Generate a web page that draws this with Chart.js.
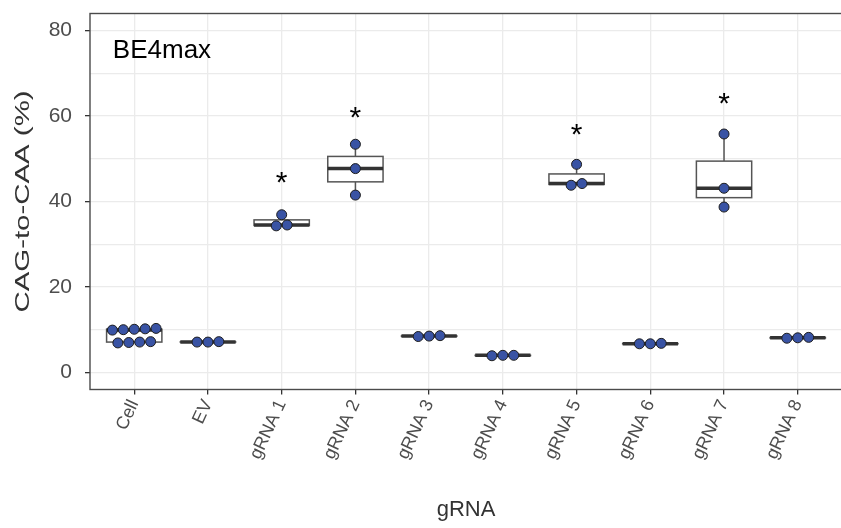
<!DOCTYPE html>
<html>
<head>
<meta charset="utf-8">
<script src="https://cdn.jsdelivr.net/npm/chart.js@4.4.0/dist/chart.umd.min.js"></script>
<style>
  html, body { margin: 0; padding: 0; background: #fff; overflow: hidden; }
  #wrap { width: 848px; height: 528px; }
</style>
</head>
<body>
<div id="wrap"><canvas id="boxChart"></canvas></div>
<script>
// data
const categories = ["Cell", "EV", "gRNA 1", "gRNA 2", "gRNA 3", "gRNA 4", "gRNA 5", "gRNA 6", "gRNA 7", "gRNA 8"];
const cellValues = [9.9, 10.0, 10.1, 10.2, 10.3, 6.9, 7.0, 7.1, 7.2];
const evValues = [7.1, 7.1, 7.2];
const g1Values = [34.3, 34.5, 36.9];
const g2Values = [41.5, 47.7, 53.4];
const g3Values = [8.4, 8.5, 8.6];
const g4Values = [3.9, 4.0, 4.0];
const g5Values = [43.8, 44.2, 48.7];
const g6Values = [6.7, 6.7, 6.8];
const g7Values = [38.7, 43.1, 55.8];
const g8Values = [8.0, 8.1, 8.2];
const starY = [null, null, 45.6, 60.7, null, null, 56.8, null, 64.2, null];
const yTicks = [0, 10, 20, 30, 40, 50, 60, 70, 80];
const panelLabel = "BE4max";

const groups = [cellValues, evValues, g1Values, g2Values, g3Values, g4Values, g5Values, g6Values, g7Values, g8Values];

function quantile(sorted, p) {
    const h = (sorted.length - 1) * p;
    const lo = Math.floor(h);
    const hi = Math.min(lo + 1, sorted.length - 1);
    return sorted[lo] + (h - lo) * (sorted[hi] - sorted[lo]);
}

function boxStats(vals) {
    const s = vals.slice().sort((a, b) => a - b);
    const q1 = quantile(s, 0.25), med = quantile(s, 0.5), q3 = quantile(s, 0.75);
    const iqr = q3 - q1;
    const lo = s.find(v => v >= q1 - 1.5 * iqr);
    const hi = s.slice().reverse().find(v => v <= q3 + 1.5 * iqr);
    return { q1, med, q3, lo, hi };
}

// simple beeswarm: values close together share a row and spread sideways
function swarm(vals) {
    const s = vals.slice().sort((a, b) => a - b);
    const rows = [];
    s.forEach(v => {
        const row = rows[rows.length - 1];
        if (row && v - row[row.length - 1] < 1.5) row.push(v);
        else rows.push([v]);
    });
    const out = [];
    rows.forEach(row => {
        row.forEach((v, i) => out.push({ dx: (i - (row.length - 1) / 2) * 0.148, y: v }));
    });
    return out;
}

const points = [];
groups.forEach((vals, gi) => {
    swarm(vals).forEach(p => points.push({ x: gi + p.dx, y: p.y }));
});

const fontFamily = "'Liberation Sans', Arial, sans-serif";

const boxPlugin = {
    id: "boxes",
    beforeDatasetsDraw(chart) {
        const { ctx, scales: { x, y }, chartArea } = chart;
        ctx.save();
        ctx.beginPath();
        ctx.rect(chartArea.left, chartArea.top, chartArea.right - chartArea.left, chartArea.bottom - chartArea.top);
        ctx.clip();
        groups.forEach((vals, gi) => {
            const st = boxStats(vals);
            const x0 = x.getPixelForValue(gi - 0.375);
            const x1 = x.getPixelForValue(gi + 0.375);
            const xc = x.getPixelForValue(gi);
            ctx.strokeStyle = "#555";
            ctx.lineWidth = 1.5;
            ctx.beginPath();
            ctx.moveTo(xc, y.getPixelForValue(st.q3));
            ctx.lineTo(xc, y.getPixelForValue(st.hi));
            ctx.moveTo(xc, y.getPixelForValue(st.q1));
            ctx.lineTo(xc, y.getPixelForValue(st.lo));
            ctx.stroke();
            const top = y.getPixelForValue(st.q3), bot = y.getPixelForValue(st.q1);
            ctx.fillStyle = "#fff";
            ctx.fillRect(x0, top, x1 - x0, bot - top);
            ctx.strokeRect(x0, top, x1 - x0, bot - top);
            ctx.strokeStyle = "#333";
            ctx.lineWidth = 3.5;
            ctx.beginPath();
            ctx.moveTo(x0, y.getPixelForValue(st.med));
            ctx.lineTo(x1, y.getPixelForValue(st.med));
            ctx.stroke();
        });
        ctx.restore();
    },
    afterDatasetsDraw(chart) {
        const { ctx, scales: { x, y }, chartArea } = chart;
        ctx.save();
        ctx.fillStyle = "#000";
        ctx.font = "30px " + fontFamily;
        ctx.textAlign = "center";
        ctx.textBaseline = "alphabetic";
        starY.forEach((v, i) => {
            if (v === null) return;
            ctx.fillText("*", x.getPixelForValue(i), y.getPixelForValue(v) + 0.48 * 30);
        });
        ctx.font = "26px " + fontFamily;
        ctx.textAlign = "left";
        ctx.fillText(panelLabel, x.getPixelForValue(-0.29), y.getPixelForValue(73.5));
        // panel border
        ctx.strokeStyle = "#4a4a4a";
        ctx.lineWidth = 1.4;
        ctx.strokeRect(chartArea.left, chartArea.top, chartArea.right - chartArea.left, chartArea.bottom - chartArea.top);
        ctx.restore();
    },
    afterLayout(chart) {
        // stretch the rotated y title along its length, as in the reference
        const ys = chart.scales.y;
        if (ys._stretched) return;
        const orig = ys.drawTitle.bind(ys);
        ys.drawTitle = function () {
            const ctx = this.ctx;
            const cy = (this.top + this.bottom) / 2;
            ctx.save();
            ctx.translate(0, cy);
            ctx.scale(1, 1.4);
            ctx.translate(0, -cy);
            orig();
            ctx.restore();
        };
        ys._stretched = true;
    }
};

new Chart("boxChart", {
    type: "scatter",
    data: {
        datasets: [{
            data: points,
            pointStyle: "circle",
            pointRadius: 5,
            pointHoverRadius: 5,
            backgroundColor: "#3953a4",
            borderColor: "#1e1e1e",
            borderWidth: 1
        }]
    },
    options: {
        responsive: true,
        maintainAspectRatio: false,
        animation: false,
        layout: { padding: { top: 13.5, left: 0, right: 0, bottom: 0 } },
        plugins: { legend: { display: false }, tooltip: { enabled: false } },
        scales: {
            x: {
                type: "linear",
                min: -0.6,
                max: 9.6,
                afterBuildTicks: (scale) => { scale.ticks = categories.map((c, i) => ({ value: i })); },
                afterFit: (scale) => {
                    scale.height = 138.5;
                    scale.paddingLeft = 0;
                    scale.paddingRight = 0;
                },
                ticks: {
                    autoSkip: false,
                    minRotation: 65,
                    maxRotation: 65,
                    padding: 2,
                    color: "#4d4d4d",
                    font: { family: fontFamily, size: 18 },
                    callback: (v) => categories[v]
                },
                grid: { color: "#ebebeb", lineWidth: 1.3, tickColor: "#333", tickWidth: 1.3, tickLength: 5 },
                border: { display: false },
                title: {
                    display: true,
                    text: "gRNA",
                    color: "#333",
                    font: { family: fontFamily, size: 22 },
                    padding: { top: 0, bottom: 5 }
                }
            },
            y: {
                min: -4,
                max: 84,
                afterBuildTicks: (scale) => { scale.ticks = yTicks.map(v => ({ value: v })); },
                afterFit: (scale) => {
                    scale.width = 90;
                    scale.paddingTop = 0;
                    scale.paddingBottom = 0;
                },
                ticks: {
                    padding: 13,
                    color: "#4d4d4d",
                    font: { family: fontFamily, size: 21 },
                    callback: (v) => (v % 20 === 0 ? String(v) : "")
                },
                grid: {
                    color: "#ebebeb",
                    lineWidth: 1.3,
                    tickColor: (c) => (c.tick && c.tick.value % 20 === 0 ? "#333" : "rgba(0,0,0,0)"),
                    tickWidth: 1.3,
                    tickLength: 5
                },
                border: { display: false },
                title: {
                    display: true,
                    text: "CAG-to-CAA (%)",
                    color: "#333",
                    font: { family: fontFamily, size: 21 },
                    padding: { top: 11, bottom: 0 }
                }
            }
        }
    },
    plugins: [boxPlugin]
});
</script>
</body>
</html>
